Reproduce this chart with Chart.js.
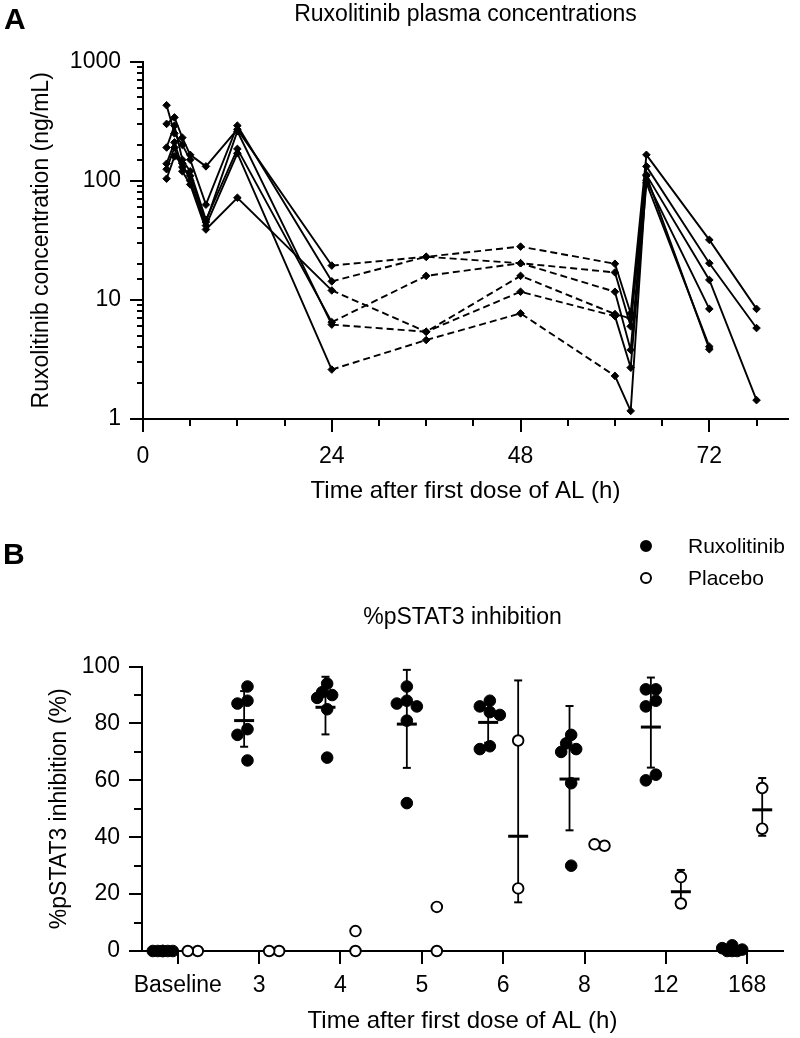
<!DOCTYPE html>
<html>
<head>
<meta charset="utf-8">
<script src="https://cdn.jsdelivr.net/npm/chart.js@4"></script>
<style>
body { margin: 0; background: #fff; font-family: 'Liberation Sans', Arial, sans-serif; color: #000; }
#page { position: relative; width: 800px; height: 1038px; overflow: hidden; }
canvas { position: absolute; left: 0; }
#chartA { top: 0; }
#chartB { top: 520px; }
.panel { position: absolute; font-weight: bold; font-size: 30px; line-height: 30px; }
.leg { position: absolute; left: 640px; height: 24px; font-size: 21px; line-height: 24px; }
.leg .dot { position: absolute; left: 0; top: 6px; width: 12px; height: 12px; border-radius: 50%; box-sizing: border-box; border: 2px solid #000; }
.leg .lab { position: absolute; left: 48px; top: 0; white-space: nowrap; }
</style>
</head>
<body>
<div id="page">
  <canvas id="chartA" width="800" height="520"></canvas>
  <canvas id="chartB" width="800" height="518"></canvas>
  <div class="panel" style="left:4px;top:4px">A</div>
  <div class="panel" style="left:3px;top:539px">B</div>
  <div class="leg" style="top:534px"><span class="dot" style="background:#000"></span><span class="lab">Ruxolitinib</span></div>
  <div class="leg" style="top:566px"><span class="dot" style="background:#fff"></span><span class="lab">Placebo</span></div>
</div>
<script>
Chart.defaults.font.family = "'Liberation Sans', Arial, sans-serif";
Chart.defaults.color = '#000';

// A - plasma concentrations (ng/mL) per subject
const pkHours = [3, 4, 5, 6, 8, 12, 24, 36, 48, 60, 62, 64, 72, 78];
const pkSubject1 = [300, 340, 230, 165, 132, 270, 19.4, 23, 28, 20.1, 7.7, 165, 31.9, 8.4];
const pkSubject2 = [430, 250, 200, 150, 63, 290, 14.3, 23, 20.3, 17, 6.0, 132, 20.3, 5.8];
const pkSubject3 = [190, 290, 150, 120, 47, 185, 6.5, 15.9, 20.3, 11.7, 3.8, 112, 14.7, 1.44];
const pkSubject4 = [139, 210, 130, 110, 45, 260, 6.2, 5.4, 15.9, 7.6, 7.0, 101, 8.4, null];
const pkSubject5 = [125, 190, 120, 93, 39, 72, 12, 5.4, 11.7, 7.3, 2.7, 96, 4.05, null];
const pkSubject6 = [104, 160, 140, 100, 42, 170, 2.6, 4.6, 7.7, 2.3, 1.17, 110, 3.85, null];
const pkSubjects = [pkSubject1, pkSubject2, pkSubject3, pkSubject4, pkSubject5, pkSubject6];
const pkHourLabels = [0, 24, 48, 72];

// B - %pSTAT3 inhibition per time point
const timeLabels = ['Baseline', '3', '4', '5', '6', '8', '12', '168'];
const ruxInhibition = [
    [0, 0, 0, 0, 0, 0],
    [93, 88, 87, 78, 76, 67],
    [94, 91, 90, 89, 85, 68],
    [93, 88, 87, 86, 81, 52],
    [88, 86, 84, 83, 72, 71],
    [76, 73, 71, 70, 59, 30],
    [92, 92, 88, 86, 62, 60],
    [2, 1, 0.5, 0, 0, 0]
];
const placeboInhibition = [
    [0, 0],
    [0, 0],
    [7, 0],
    [15.5, 0],
    [74, 22],
    [37, 37.5],
    [26, 16.7],
    [57.3, 43]
];

const tickFont = { size: 23 };
const isPow10 = v => Math.abs(Math.log10(v) - Math.round(Math.log10(v))) < 1e-9;

// ticks drawn by hand so majors and minors can have different lengths
function tickMarks(spec){
    return {
        id: 'tickMarks',
        afterDraw(chart){
            const ctx = chart.ctx;
            const area = chart.chartArea;
            ctx.save();
            ctx.strokeStyle = '#000';
            ctx.lineWidth = 2;
            ctx.beginPath();
            Object.keys(spec).forEach(id => {
                const scale = chart.scales[id];
                const s = spec[id];
                scale.ticks.forEach(t => {
                    const len = s.isMajor(t.value) ? s.major : s.minor;
                    const p = Math.round(scale.getPixelForValue(t.value));
                    if (scale.isHorizontal()) {
                        ctx.moveTo(p, area.bottom);
                        ctx.lineTo(p, area.bottom + len);
                    } else {
                        ctx.moveTo(area.left + 1, p);
                        ctx.lineTo(area.left - len, p);
                    }
                });
            });
            ctx.stroke();
            ctx.restore();
        }
    };
}

//CHART A
const pkDatasets = pkSubjects.map(vals => ({
    data: pkHours.map((h, i) => ({ x: h, y: vals[i] })).filter(p => p.y != null),
    showLine: true,
    borderColor: '#000',
    backgroundColor: '#000',
    borderWidth: 1.9,
    pointStyle: 'rectRot',
    pointRadius: 3.8,
    pointBorderWidth: 1,
    clip: false,
    segment: {
        borderDash: ctx => (ctx.p0.parsed.x >= 24 && ctx.p1.parsed.x <= 60) ? [7, 4] : undefined
    }
}));

new Chart(document.querySelector('#chartA'), {
    type: 'scatter',
    data: { datasets: pkDatasets },
    options: {
        responsive: false,
        animation: false,
        layout: { padding: { left: 0, right: 12, top: 0, bottom: 0 } },
        plugins: {
            legend: { display: false },
            tooltip: { enabled: false },
            title: {
                display: true,
                fullSize: false,
                text: 'Ruxolitinib plasma concentrations',
                font: { size: 23, weight: 'normal' },
                padding: { top: 1, bottom: 33 }
            }
        },
        scales: {
            x: {
                type: 'linear',
                min: 0,
                max: 82,
                afterFit: s => { s.height = 101; },
                grid: { display: false },
                border: { display: true, color: '#000', width: 2 },
                ticks: {
                    stepSize: 6,
                    includeBounds: false,
                    autoSkip: false,
                    maxRotation: 0,
                    padding: 16,
                    font: tickFont,
                    callback: v => pkHourLabels.includes(v) ? String(v) : ''
                },
                title: {
                    display: true,
                    text: 'Time after first dose of AL (h)',
                    font: { size: 24 },
                    padding: { top: 0, bottom: 14 }
                }
            },
            y: {
                type: 'logarithmic',
                min: 1,
                max: 1000,
                afterFit: s => { s.width = 143; },
                grid: { display: false },
                border: { display: true, color: '#000', width: 2 },
                ticks: {
                    autoSkip: false,
                    padding: 14,
                    font: tickFont,
                    callback: v => isPow10(v) ? String(v) : ''
                },
                title: {
                    display: true,
                    text: 'Ruxolitinib concentration (ng/mL)',
                    font: { size: 23 },
                    padding: { top: 28, bottom: 0 }
                }
            }
        }
    },
    plugins: [tickMarks({
        x: { major: 13, minor: 7, isMajor: v => v % 24 === 0 },
        y: { major: 13, minor: 6, isMajor: isPow10 }
    })]
});

//CHART B
const catWidth = 81.35;   // px between categories
const groupShift = 15;    // px off the category centre
const pxPerUnit = 2.85;   // px per % on the y axis

// spread points with close values sideways, like a scatter dot plot
function swarm(vals){
    const placed = [];
    const cands = [0, -5, 5, -10, 10];
    vals.forEach(v => {
        let best = 0, bestD = -1;
        for (const c of cands) {
            let d = Infinity;
            placed.forEach(p => { d = Math.min(d, Math.hypot(c - p.dx, (v - p.v) * pxPerUnit)); });
            if (d >= 9) { best = c; break; }
            if (d > bestD) { bestD = d; best = c; }
        }
        placed.push({ v: v, dx: best });
    });
    const m = placed.reduce((a, p) => a + p.dx, 0) / placed.length;
    return placed.map(p => p.dx - m);
}

function groupPoints(groups, shift){
    const pts = [];
    groups.forEach((vals, i) => {
        const dx = swarm(vals);
        vals.forEach((v, j) => pts.push({ x: i + (shift + dx[j]) / catWidth, y: v }));
    });
    return pts;
}

// geometric mean and geometric SD
function geoStats(vals){
    if (vals.length < 2 || vals.some(v => v <= 0)) return null;
    const l = vals.map(Math.log);
    const m = l.reduce((a, b) => a + b, 0) / l.length;
    const sd = Math.sqrt(l.reduce((a, b) => a + (b - m) * (b - m), 0) / (l.length - 1));
    return { mean: Math.exp(m), lo: Math.exp(m - sd), hi: Math.exp(m + sd) };
}

function meanPoints(groups, shift){
    const pts = [];
    groups.forEach((vals, i) => {
        const st = geoStats(vals);
        if (st) pts.push({ x: i + shift / catWidth, y: st.mean });
    });
    return pts;
}

function sdPoints(groups, shift){
    const pts = [];
    groups.forEach((vals, i) => {
        const st = geoStats(vals);
        if (!st) return;
        const x = i + shift / catWidth;
        pts.push({ x: x, y: st.lo }, { x: x, y: st.hi }, { x: x, y: null });
    });
    return pts;
}

const dotStyle = { clip: false };

new Chart(document.querySelector('#chartB'), {
    type: 'scatter',
    data: {
        datasets: [
            Object.assign({
                label: 'Ruxolitinib',
                data: groupPoints(ruxInhibition, -groupShift),
                pointRadius: 5.8,
                backgroundColor: '#000',
                borderColor: '#000',
                pointBorderWidth: 1
            }, dotStyle),
            Object.assign({
                label: 'Placebo',
                data: groupPoints(placeboInhibition, groupShift),
                pointRadius: 5.3,
                backgroundColor: '#fff',
                borderColor: '#000',
                pointBorderWidth: 1.9
            }, dotStyle),
            Object.assign({
                data: meanPoints(ruxInhibition, -groupShift),
                pointStyle: 'line',
                pointRadius: 10,
                borderColor: '#000',
                pointBorderWidth: 3
            }, dotStyle),
            Object.assign({
                data: meanPoints(placeboInhibition, groupShift),
                pointStyle: 'line',
                pointRadius: 10,
                borderColor: '#000',
                pointBorderWidth: 3
            }, dotStyle),
            Object.assign({
                data: sdPoints(ruxInhibition, -groupShift),
                showLine: true,
                spanGaps: false,
                borderColor: '#000',
                borderWidth: 1.8,
                pointStyle: 'line',
                pointRadius: 4,
                pointBorderWidth: 2
            }, dotStyle),
            Object.assign({
                data: sdPoints(placeboInhibition, groupShift),
                showLine: true,
                spanGaps: false,
                borderColor: '#000',
                borderWidth: 1.8,
                pointStyle: 'line',
                pointRadius: 4,
                pointBorderWidth: 2
            }, dotStyle)
        ]
    },
    options: {
        responsive: false,
        animation: false,
        layout: { padding: { left: 0, right: 17, top: 0, bottom: 0 } },
        plugins: {
            legend: { display: false },
            tooltip: { enabled: false },
            title: {
                display: true,
                fullSize: false,
                text: '%pSTAT3 inhibition',
                font: { size: 23, weight: 'normal' },
                padding: { top: 84, bottom: 35 }
            }
        },
        scales: {
            x: {
                type: 'linear',
                min: -0.44,
                max: timeLabels.length - 1 + 0.44,
                afterFit: s => { s.height = 87; },
                afterBuildTicks: s => { s.ticks = timeLabels.map((t, i) => ({ value: i })); },
                grid: { display: false },
                border: { display: true, color: '#000', width: 2 },
                ticks: {
                    autoSkip: false,
                    maxRotation: 0,
                    padding: 13,
                    font: tickFont,
                    callback: v => timeLabels[v]
                },
                title: {
                    display: true,
                    text: 'Time after first dose of AL (h)',
                    font: { size: 24 },
                    padding: { top: 0, bottom: 2 }
                }
            },
            y: {
                min: 0,
                max: 100,
                afterFit: s => { s.width = 142; },
                grid: { display: false },
                border: { display: true, color: '#000', width: 2 },
                ticks: {
                    stepSize: 10,
                    autoSkip: false,
                    padding: 14,
                    font: tickFont,
                    callback: v => v % 20 === 0 ? String(v) : ''
                },
                title: {
                    display: true,
                    text: '%pSTAT3 inhibition (%)',
                    font: { size: 23 },
                    padding: { top: 46, bottom: 0 }
                }
            }
        }
    },
    plugins: [tickMarks({
        x: { major: 13, minor: 13, isMajor: v => true },
        y: { major: 13, minor: 8, isMajor: v => v % 20 === 0 }
    })]
});
</script>
</body>
</html>
